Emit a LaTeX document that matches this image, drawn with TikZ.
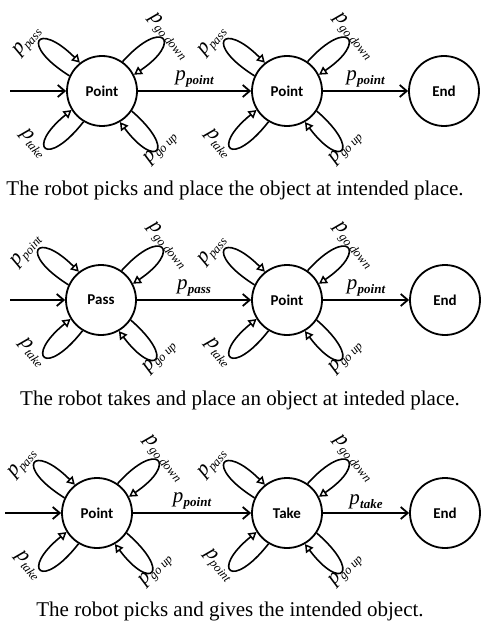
\documentclass[tikz,border=0pt]{standalone}
\usepackage{fontspec}
\setmainfont{Liberation Serif}
\newfontfamily\nodefont{Carlito}
\usetikzlibrary{arrows.meta}
\newcommand\plbl[1]{{\fontsize{21}{21}\selectfont\itshape p}\kern0.3pt\raisebox{-3.5pt}{\fontsize{12.5}{12.5}\selectfont\itshape #1}}
\newcommand\pedge[1]{{\fontsize{21}{21}\selectfont\itshape p}\kern0.3pt\raisebox{-3.5pt}{\fontsize{13}{13}\selectfont\bfseries\itshape #1}}
\newcommand\fourloops[3]{%
  \draw[loopline] (#1.155) .. controls +(148:60) and +(135:60) .. (#1.128);
  \draw[loopline] (#1.55) .. controls +(48:60) and +(34:60) .. (#1.27);
  \draw[loopline] (#1.239) .. controls +(232:60) and +(219:60) .. (#1.212);
  \draw[loopline] (#1.326) .. controls +(319:60) and +(307:60) .. (#1.300);
  \node[lbl,rotate=50] at ([shift={(-74,49)}]#1.center) {\plbl{#2}};
  \node[lbl,rotate=-50] at ([shift={(66,54)}]#1.center) {\plbl{go down}};
  \node[lbl,rotate=-50] at ([shift={(-69,-53)}]#1.center) {\plbl{#3}};
  \node[lbl,rotate=47] at ([shift={(59,-57)}]#1.center) {\plbl{go up}};
}
\begin{document}
\begin{tikzpicture}[x=1pt,y=1pt,
  state/.style={circle,draw,line width=1.8pt,minimum size=70pt,inner sep=0pt,
    font=\nodefont\bfseries\fontsize{15}{15}\selectfont},
  main/.style={line width=1.8pt,-{Straight Barb[length=7pt,width=12pt]}},
  loopline/.style={line width=1.6pt,-{Triangle[open,length=8pt,width=9pt,line width=1.5pt]}},
  lbl/.style={inner sep=0pt},
  elbl/.style={above,inner sep=2pt,yshift=1pt},
  captext/.style={anchor=base,inner sep=0pt,font=\fontsize{21}{21}\selectfont}]
\useasboundingbox (0,0) rectangle (481,-623);
% row 1
\node[state] (a1) at (102,-91) {Point};
\node[state] (b1) at (287,-91) {Point};
\node[state] (c1) at (444,-91) {End};
\coordinate (s1) at (10,-91);
\draw[main] (s1) -- (a1);
\draw[main] (a1) -- node[elbl]{\pedge{point}} (b1);
\draw[main] (b1) -- node[elbl]{\pedge{point}} (c1);
\fourloops{a1}{pass}{take}
\fourloops{b1}{pass}{take}
\node[captext] (t1) at (235,-195) {The robot picks and place the object at intended place.};
% row 2
\node[state] (a2) at (101,-300) {Pass};
\node[state] (b2) at (287,-300) {Point};
\node[state] (c2) at (445,-300) {End};
\coordinate (s2) at (10,-300);
\draw[main] (s2) -- (a2);
\draw[main] (a2) -- node[elbl]{\pedge{pass}} (b2);
\draw[main] (b2) -- node[elbl]{\pedge{point}} (c2);
\fourloops{a2}{point}{take}
\fourloops{b2}{pass}{take}
\node[captext] (t2) at (240,-405) {The robot takes and place an object at inteded place.};
% row 3
\node[state] (a3) at (97,-513) {Point};
\node[state] (b3) at (287,-513) {Take};
\node[state] (c3) at (445,-513) {End};
\coordinate (s3) at (5,-513);
\draw[main] (s3) -- (a3);
\draw[main] (a3) -- node[elbl]{\pedge{point}} (b3);
\draw[main] (b3) -- node[elbl]{\pedge{take}} (c3);
\fourloops{a3}{pass}{take}
\fourloops{b3}{pass}{point}
\node[captext] (t3) at (230,-616) {The robot picks and gives the intended object.};
\end{tikzpicture}
\end{document}
